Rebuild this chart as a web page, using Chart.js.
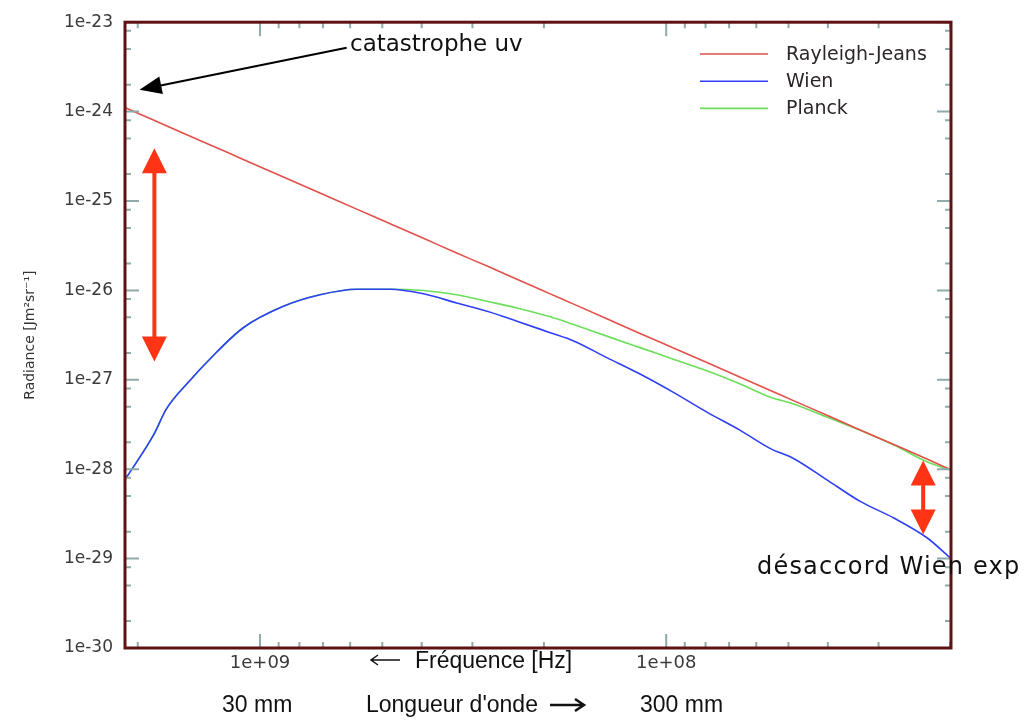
<!DOCTYPE html>
<html><head><meta charset="utf-8">
<script src="https://cdn.jsdelivr.net/npm/chart.js@4.4.0/dist/chart.umd.min.js"></script>
<style>html,body{margin:0;padding:0;background:#fff;overflow:hidden}#wrap{width:1032px;height:720px;position:relative}</style>
</head><body><div id="wrap"><canvas id="c" width="1032" height="720"></canvas></div>
<script>
// ---- data ----
const frequencies = [2.15e9,1.83e9,1.70e9,1.49e9,1.33e9,1.10e9,8.76e8,7.12e8,5.78e8,4.78e8,3.96e8,3.28e8,2.76e8,2.33e8,1.93e8,1.69e8,1.40e8,1.16e8,9.60e7,7.94e7,6.57e7,5.54e7,4.86e7,4.02e7,3.33e7,2.75e7,2.28e7,2.00e7];
const rayleighJeans = [1.11e-24,8.07e-25,6.93e-25,5.33e-25,4.26e-25,2.92e-25,1.86e-25,1.23e-25,8.11e-26,5.57e-26,3.83e-26,2.62e-26,1.87e-26,1.33e-26,9.14e-27,7.02e-27,4.82e-27,3.30e-27,2.27e-27,1.56e-27,1.07e-27,7.61e-28,5.85e-28,4.01e-28,2.75e-28,1.89e-28,1.30e-28,9.96e-29];
const wien = [7.64e-29,2.40e-28,4.73e-28,9.77e-28,1.70e-27,3.82e-27,6.64e-27,8.93e-27,1.03e-26,1.03e-26,9.16e-27,7.23e-27,5.85e-27,4.53e-27,3.36e-27,2.72e-27,1.77e-27,1.16e-27,7.24e-28,4.35e-28,2.72e-28,1.70e-28,1.32e-28,7.59e-29,4.36e-29,2.84e-29,1.71e-29,1.02e-29];
const planck = [7.64e-29,2.40e-28,4.73e-28,9.77e-28,1.70e-27,3.82e-27,6.64e-27,8.93e-27,1.03e-26,1.03e-26,9.98e-27,8.93e-27,7.55e-27,6.37e-27,5.06e-27,4.15e-27,3.08e-27,2.29e-27,1.70e-27,1.26e-27,8.95e-28,6.38e-28,5.37e-28,3.83e-28,2.72e-28,1.86e-28,1.21e-28,9.80e-29];
const seriesLabels = ['Rayleigh-Jeans','Wien','Planck'];
const xTickValues = [1e9, 1e8];
const xTickLabels = ['1e+09','1e+08'];
const yTickValues = [1e-23,1e-24,1e-25,1e-26,1e-27,1e-28,1e-29,1e-30];
const yTickLabels = ['1e-23','1e-24','1e-25','1e-26','1e-27','1e-28','1e-29','1e-30'];
const xRange = [1.99e7, 2.15e9];
const yRange = [1e-30, 1e-23];

const colors = ['#e2504a','#2f3ff6','#6cdf5a'];
const seriesValues = [rayleighJeans, wien, planck];

function toPoints(vals){ return frequencies.map((f,i)=>({x:f,y:vals[i]})); }

function arrowHead(ctx, tx, ty, fx, fy, len, hw){
  const a = Math.atan2(ty-fy, tx-fx);
  const bx = tx - len*Math.cos(a), by = ty - len*Math.sin(a);
  ctx.beginPath();
  ctx.moveTo(tx,ty);
  ctx.lineTo(bx + hw*Math.sin(a), by - hw*Math.cos(a));
  ctx.lineTo(bx - hw*Math.sin(a), by + hw*Math.cos(a));
  ctx.closePath(); ctx.fill();
}

const decor = {
  id:'decor',
  afterDatasetsDraw(chart){
    const ctx = chart.ctx, ca = chart.chartArea;
    const xs = chart.scales.x, ys = chart.scales.y;
    ctx.save();
    // inward ticks on all four sides
    ctx.strokeStyle = '#8eaaaa'; ctx.lineWidth = 2;
    const maj = 14, mnr = 6;
    for (let k = 7; k <= 9; k++){
      for (let m = 1; m <= 9; m++){
        const v = m*Math.pow(10,k);
        if (v < xRange[0] || v > xRange[1]) continue;
        const px = xs.getPixelForValue(v), L = (m===1)?maj:mnr;
        ctx.beginPath(); ctx.moveTo(px, ca.bottom); ctx.lineTo(px, ca.bottom-L);
        ctx.moveTo(px, ca.top); ctx.lineTo(px, ca.top+L); ctx.stroke();
      }
    }
    for (let k = -30; k <= -23; k++){
      [1,2,5,8].forEach(m=>{
        const v = m*Math.pow(10,k);
        if (v < yRange[0]*0.999 || v > yRange[1]*1.001) return;
        const py = ys.getPixelForValue(v), L = (m===1)?maj:mnr;
        ctx.beginPath(); ctx.moveTo(ca.left, py); ctx.lineTo(ca.left+L, py);
        ctx.moveTo(ca.right, py); ctx.lineTo(ca.right-L, py); ctx.stroke();
      });
    }
    // frame
    ctx.strokeStyle = '#5e1212'; ctx.lineWidth = 3;
    ctx.strokeRect(ca.left, ca.top, ca.right-ca.left, ca.bottom-ca.top);

    // legend
    ctx.font = '19px "DejaVu Sans"'; ctx.textBaseline = 'middle'; ctx.textAlign = 'left';
    seriesLabels.forEach((lab,i)=>{
      const y = 54 + i*27.2;
      ctx.strokeStyle = colors[i]; ctx.lineWidth = 1.6;
      ctx.beginPath(); ctx.moveTo(700,y); ctx.lineTo(768,y); ctx.stroke();
      ctx.fillStyle = '#2d2626'; ctx.fillText(lab, 786, y+1);
    });

    // black arrow "catastrophe uv"
    const tipX = xs.getPixelForValue(1.98e9), tipY = ys.getPixelForValue(1.76e-24);
    const stX = xs.getPixelForValue(6.12e8), stY = ys.getPixelForValue(5.19e-24);
    ctx.strokeStyle = '#000'; ctx.fillStyle = '#000'; ctx.lineWidth = 2;
    ctx.beginPath(); ctx.moveTo(stX, stY); ctx.lineTo(tipX+10, tipY-2); ctx.stroke();
    arrowHead(ctx, tipX, tipY, stX, stY, 22, 9);

    // red double arrows
    ctx.strokeStyle = '#ff3414'; ctx.fillStyle = '#ff3414'; ctx.lineWidth = 4;
    function dbl(f, vTop, vBot){
      const x = xs.getPixelForValue(f), y1 = ys.getPixelForValue(vTop), y2 = ys.getPixelForValue(vBot);
      ctx.beginPath(); ctx.moveTo(x, y1+20); ctx.lineTo(x, y2-20); ctx.stroke();
      arrowHead(ctx, x, y1, x, y2, 25, 12.5);
      arrowHead(ctx, x, y2, x, y1, 25, 12.5);
    }
    dbl(1.82e9, 3.9e-25, 1.6e-27);
    dbl(2.33e7, 1.25e-28, 1.86e-29);

    // annotation texts
    ctx.fillStyle = '#111'; ctx.textBaseline = 'middle'; ctx.textAlign = 'left';
    ctx.font = '23px "Comic Sans MS", "DejaVu Sans", sans-serif';
    ctx.fillText('catastrophe uv', 350, 45);
    ctx.font = '24px "Comic Sans MS", "DejaVu Sans", sans-serif';
    ctx.letterSpacing = '1.2px';
    ctx.fillText('désaccord Wien exp', 757, 568);
    ctx.letterSpacing = '0px';

    ctx.font = '23px "Liberation Sans", Arial, sans-serif';
    ctx.fillText('Fréquence [Hz]', 415, 662);
    ctx.fillText('30 mm', 222, 706);
    ctx.fillText("Longueur d'onde", 366, 706);
    ctx.fillText('300 mm', 640, 706);

    // text arrows
    ctx.strokeStyle = '#111'; ctx.lineWidth = 1.5;
    ctx.beginPath(); ctx.moveTo(400,660); ctx.lineTo(371,660);
    ctx.moveTo(378,655); ctx.lineTo(371,660); ctx.lineTo(378,665); ctx.stroke();
    ctx.lineWidth = 2.5;
    ctx.beginPath(); ctx.moveTo(550,705); ctx.lineTo(584,705);
    ctx.moveTo(575,699); ctx.lineTo(584,705); ctx.lineTo(575,711); ctx.stroke();

    ctx.restore();
  }
};

new Chart(document.getElementById('c'), {
  type:'line',
  data:{ datasets: seriesLabels.map((lab,i)=>({
    label: lab, data: toPoints(seriesValues[i]), borderColor: colors[i],
    borderWidth: 1.6, pointRadius: 0, cubicInterpolationMode:'monotone', fill: false
  }))},
  options:{
    responsive:false, devicePixelRatio:1, animation:false,
    layout:{ padding:{ top:17, right:81, left:0, bottom:0 } },
    plugins:{ legend:{display:false}, tooltip:{enabled:false} },
    scales:{
      x:{ type:'logarithmic', reverse:true, min:xRange[0], max:xRange[1], bounds:'data',
        grid:{display:false, drawTicks:false}, border:{display:false},
        afterBuildTicks(s){ s.ticks = xTickValues.map(v=>({value:v})); },
        afterFit(s){ s.height = 72; },
        ticks:{ autoSkip:false, maxRotation:0, padding:5, color:'#3a3a3a',
          font:{family:'DejaVu Sans', size:18},
          callback(v){ const i = xTickValues.indexOf(v); return i>=0 ? xTickLabels[i] : ''; } }
      },
      y:{ type:'logarithmic', min:yRange[0], max:yRange[1], bounds:'data',
        grid:{display:false, drawTicks:false}, border:{display:false},
        afterBuildTicks(s){ s.ticks = yTickValues.map(v=>({value:v})); },
        afterFit(s){ s.width = 125; },
        ticks:{ autoSkip:false, padding:12, color:'#3a3a3a',
          font:{family:'DejaVu Sans', size:17},
          callback(v){ const i = yTickValues.findIndex(t=>Math.abs(t-v)/t<1e-6); return i>=0 ? yTickLabels[i] : ''; } },
        title:{ display:true, text:'Radiance [Jm²sr⁻¹]', color:'#333',
          font:{family:'DejaVu Sans', size:14}, padding:{top:22,bottom:0} }
      }
    }
  },
  plugins:[decor]
});
</script></body></html>
